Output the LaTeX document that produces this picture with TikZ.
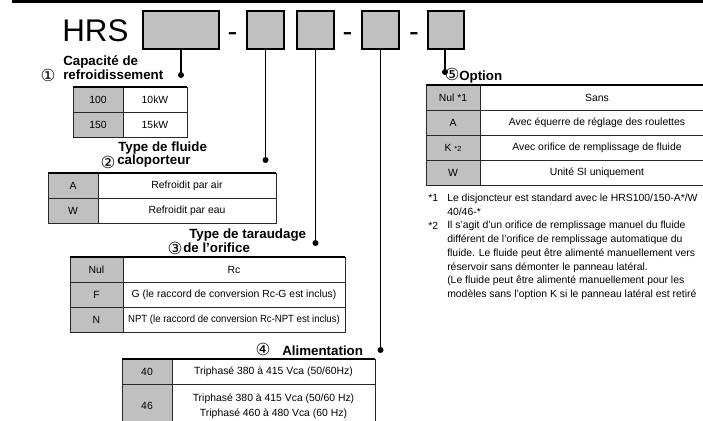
\documentclass[tikz,border=0pt]{standalone}
\usepackage{fontspec}
\setmainfont{Liberation Sans}
\newfontfamily\circfont{DejaVu Sans}
\usetikzlibrary{positioning}
\definecolor{cellgray}{RGB}{192,192,192}
\definecolor{rulegray}{RGB}{40,40,40}

\tikzset{
  codebox/.style={draw, fill=cellgray, line width=1.1pt, minimum height=28.5pt, inner sep=0pt},
  wire/.style={line width=1pt},
  jdot/.style={circle, fill, inner sep=0pt, minimum size=4.5pt},
  heading/.style={font=\fontsize{10}{10.5}\selectfont\bfseries, inner sep=0pt},
  circnum/.style={font=\circfont\fontsize{12.5}{13}\selectfont, inner sep=0pt},
  keycell/.style={draw=rulegray, fill=cellgray, line width=0.6pt, minimum height=18.75pt,
    inner sep=0pt, outer sep=0pt, font=\fontsize{7.8}{11}\selectfont},
  desccell/.style={keycell, fill=white},
  toprule/.style={line width=1.3pt},
  note/.style={font=\fontsize{7.8}{10.3}\selectfont, inner sep=0pt, align=left}
}

\begin{document}
\begin{tikzpicture}[x=0.75pt,y=-0.75pt]
\useasboundingbox (0,0) rectangle (703,421);
\fill (12,0) rectangle (703,3.4);

% model code
\node[font=\fontsize{23.5}{24}\selectfont, inner sep=0pt, anchor=base west] (hrs) at (62,41.5) {HRS};
\node[codebox, minimum width=57pt] (bcap) at (181,30) {};
\node[font=\fontsize{22}{22}\selectfont, inner sep=0pt, anchor=base] (dash1) at (232.5,41) {-};
\node[codebox, minimum width=27.75pt] (bfluid) at (265.5,30) {};
\node[codebox, minimum width=27.75pt] (bport) at (315.5,30) {};
\node[font=\fontsize{22}{22}\selectfont, inner sep=0pt, anchor=base] (dash2) at (347.5,41) {-};
\node[codebox, minimum width=27.75pt] (bpower) at (380.5,30) {};
\node[font=\fontsize{22}{22}\selectfont, inner sep=0pt, anchor=base] (dash3) at (414,41) {-};
\node[codebox, minimum width=27pt] (bopt) at (446,30) {};

\node[jdot] (pcap) at (181,75) {};
\node[jdot] (pfluid) at (265.5,160) {};
\node[jdot] (pport) at (315.5,243) {};
\node[jdot] (ppower) at (380.5,350) {};
\node[jdot] (popt) at (445,72) {};
\draw[wire] (bcap.south) -- (pcap.center);
\draw[wire] (bfluid.south) -- (pfluid.center);
\draw[wire] (bport.south) -- (pport.center);
\draw[wire] (bpower.south) -- (ppower.center);
\draw[wire] (bopt.south -| popt) -- (popt.center);

% 1
\node[circnum] (n1) at (48,75) {①};
\node[heading, anchor=base west] (lcap1) at (63,65.5) {Capacité de};
\node[heading, anchor=base west] (lcap2) at (63,79.5) {refroidissement};
\node[keycell, minimum width=37.5pt, anchor=north west] (k100) at (73,87) {100};
\node[desccell, minimum width=48pt, right=0pt of k100] (d100) {10kW};
\node[keycell, minimum width=37.5pt, below=0pt of k100] (k150) {150};
\node[desccell, minimum width=48pt, right=0pt of k150] (d150) {15kW};
\draw[toprule] (k100.north west) -- (d100.north east);

% 2
\node[circnum] (n2) at (108,162) {②};
\node[heading, anchor=base west] (lfluid1) at (118,151) {Type de fluide};
\node[heading, anchor=base west] (lfluid2) at (117,164) {caloporteur};
\node[keycell, minimum width=37.5pt, anchor=north west] (ka) at (48,173) {A};
\node[desccell, minimum width=133.5pt, right=0pt of ka] (da) {Refroidit par air};
\node[keycell, minimum width=37.5pt, below=0pt of ka] (kw) {W};
\node[desccell, minimum width=133.5pt, right=0pt of kw] (dw) {Refroidit par eau};
\draw[toprule] (ka.north west) -- (da.north east);

% 3
\node[circnum] (n3) at (175,248) {③};
\node[heading, anchor=base west] (lport1) at (189,238) {Type de taraudage};
\node[heading, anchor=base west] (lport2) at (183,252) {de l'orifice};
\node[keycell, minimum width=39.75pt, anchor=north west] (knul) at (70,257) {Nul};
\node[desccell, minimum width=166.5pt, right=0pt of knul] (dnul) {Rc};
\node[keycell, minimum width=39.75pt, below=0pt of knul] (kf) {F};
\node[desccell, minimum width=166.5pt, right=0pt of kf] (df) {G (le raccord de conversion Rc-G est inclus)};
\node[keycell, minimum width=39.75pt, below=0pt of kf] (kn) {N};
\node[desccell, minimum width=166.5pt, right=0pt of kn] (dn) {\scalebox{0.92}[1]{NPT (le raccord de conversion Rc-NPT est inclus)}};
\draw[toprule] (knul.north west) -- (dnul.north east);

% 4
\node[circnum] (n4) at (263,349) {④};
\node[heading, anchor=base west] (lpower) at (282,355) {Alimentation};
\node[keycell, minimum width=37.5pt, anchor=north west] (k40) at (122,359) {40};
\node[desccell, minimum width=152.25pt, right=0pt of k40] (d40) {Triphasé 380 à 415 Vca (50/60Hz)};
\node[keycell, minimum width=37.5pt, minimum height=33pt, anchor=north west] (k46) at (k40.south west) {46};
\node[desccell, minimum width=152.25pt, minimum height=33pt, align=center, right=0pt of k46] (d46)
  {Triphasé 380 à 415 Vca (50/60 Hz)\\Triphasé 460 à 480 Vca (60 Hz)};
\draw[toprule] (k40.north west) -- (d40.north east);

% 5
\node[circnum] (n5) at (452,74) {⑤};
\node[heading, anchor=base west] (lopt) at (459,80) {Option};
\node[keycell, minimum width=40.5pt, anchor=north west] (knul5) at (426,85) {Nul *1};
\node[desccell, minimum width=175.5pt, right=0pt of knul5] (dnul5) {Sans};
\node[keycell, minimum width=40.5pt, below=0pt of knul5] (ka5) {A};
\node[desccell, minimum width=175.5pt, right=0pt of ka5] (da5) {Avec équerre de réglage des roulettes};
\node[keycell, minimum width=40.5pt, below=0pt of ka5] (kk5) {K {\fontsize{5.5}{6}\selectfont *2}};
\node[desccell, minimum width=175.5pt, right=0pt of kk5] (dk5) {Avec orifice de remplissage de fluide};
\node[keycell, minimum width=40.5pt, below=0pt of kk5] (kw5) {W};
\node[desccell, minimum width=175.5pt, right=0pt of kw5] (dw5) {Unité SI uniquement};
\draw[toprule] (knul5.north west) -- (dnul5.north east);

% notes (base = last line)
\node[note, anchor=base west] (m1) at (428,201.5) {*1};
\node[note, anchor=base west] (fn1) at (447,215.2) {Le disjoncteur est standard avec le HRS100/150-A*/W\\40/46-*};
\node[note, anchor=base west] (m2) at (428,229) {*2};
\node[note, anchor=base west] (fn2) at (447,297.5) {Il s'agit d'un orifice de remplissage manuel du fluide\\
différent de l'orifice de remplissage automatique du\\
fluide. Le fluide peut être alimenté manuellement vers\\
réservoir sans démonter le panneau latéral.\\
(Le fluide peut être alimenté manuellement pour les\\
modèles sans l'option K si le panneau latéral est retiré};
\end{tikzpicture}
\end{document}
